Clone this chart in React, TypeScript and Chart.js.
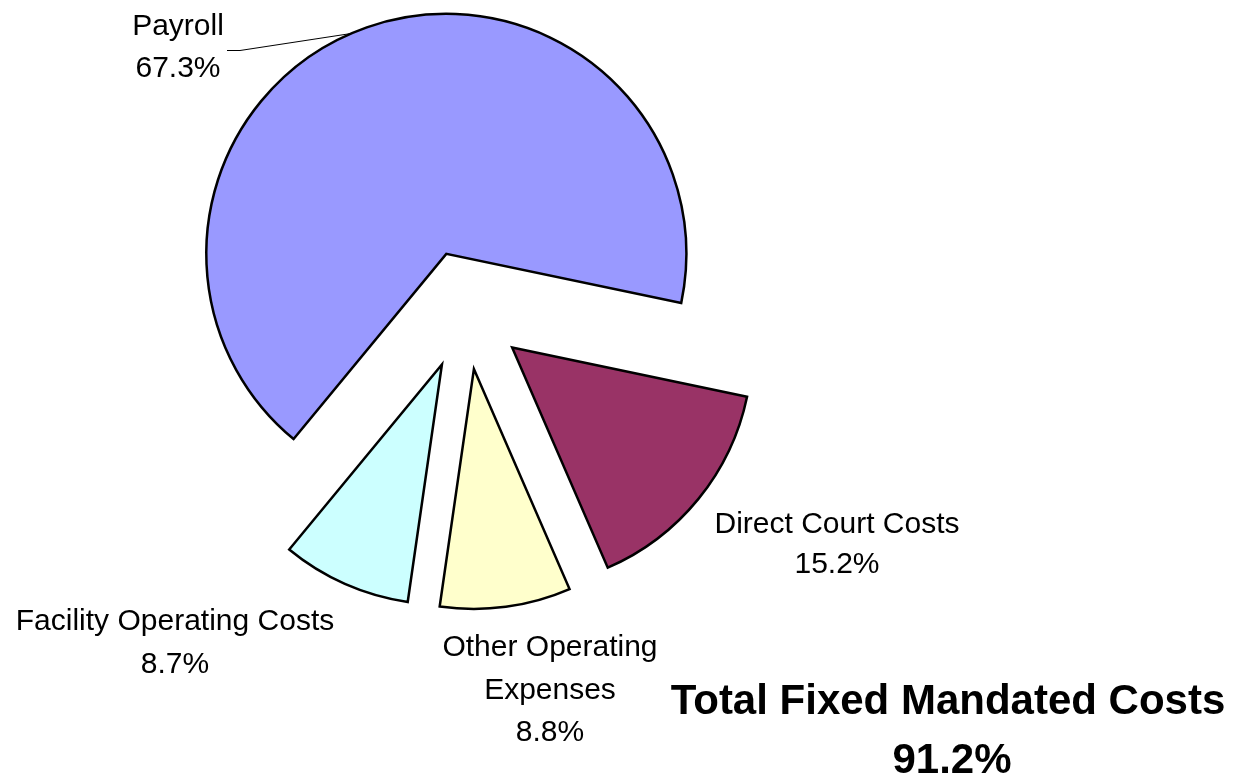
import React, { useEffect, useRef } from "react";
import { Chart, registerables } from "chart.js";

Chart.register(...registerables);

// ---- data ----
const CATEGORIES: (string | string[])[] = [
  "Direct Court Costs",
  ["Other Operating", "Expenses"],
  "Facility Operating Costs",
  "Payroll",
];
const SHARES = [15.2, 8.8, 8.7, 67.3];
const COLORS = ["#993366", "#FFFFCC", "#CCFFFF", "#9999FF"];
const TOTAL_LABEL = "Total Fixed Mandated Costs";
const TOTAL_SHARE = 91.2;

// ---- layout ----
const W = 1241;
const H = 778;
const EXPLODE = 59.5;
const RADIUS = 240;
const FONT = '"Liberation Sans", Arial, Helvetica, sans-serif';

// label placement relative to the pie centre: centre x offset, first baseline offset, line gap
const LABEL_POS = [
  { dx: 371, dy: 223, gap: 40 },
  { dx: 84, dy: 346, gap: 42.5 },
  { dx: -291, dy: 320, gap: 43 },
  { dx: -288, dy: -275, gap: 42 },
];

const explodePlugin = {
  id: "explodeSlices",
  beforeDatasetDraw(chart: any) {
    const meta = chart.getDatasetMeta(0);
    meta.data.forEach((el: any) => {
      if (el.__exploded) return;
      const orig = el.draw;
      el.draw = function (ctx: CanvasRenderingContext2D, area: any) {
        const mid = (this.startAngle + this.endAngle) / 2;
        ctx.save();
        ctx.translate(Math.cos(mid) * EXPLODE, Math.sin(mid) * EXPLODE);
        orig.call(this, ctx, area);
        ctx.restore();
      };
      el.__exploded = true;
    });
  },
};

const labelsPlugin = {
  id: "sliceLabels",
  afterDatasetsDraw(chart: any) {
    const ctx: CanvasRenderingContext2D = chart.ctx;
    const arcs: any[] = chart.getDatasetMeta(0).data;
    if (!arcs.length) return;
    const cx = arcs[0].x;
    const cy = arcs[0].y;
    ctx.save();
    ctx.fillStyle = "#000";
    ctx.textAlign = "center";
    ctx.textBaseline = "alphabetic";
    ctx.font = `30px ${FONT}`;
    CATEGORIES.forEach((cat, i) => {
      const lines = [...(Array.isArray(cat) ? cat : [cat]), SHARES[i].toFixed(1) + "%"];
      const p = LABEL_POS[i];
      lines.forEach((t, j) => ctx.fillText(t, cx + p.dx, cy + p.dy + j * p.gap));
    });

    // leader line for Payroll
    const pay = arcs[3];
    const mid = (pay.startAngle + pay.endAngle) / 2;
    const ox = pay.x + Math.cos(mid) * EXPLODE;
    const oy = pay.y + Math.sin(mid) * EXPLODE;
    const a = mid - (4 * Math.PI) / 180;
    const ex = ox + Math.cos(a) * pay.outerRadius;
    const ey = oy + Math.sin(a) * pay.outerRadius;
    ctx.beginPath();
    ctx.moveTo(cx - 239, cy - 259.5);
    ctx.lineTo(cx - 226, cy - 259.5);
    ctx.lineTo(ex, ey);
    ctx.lineWidth = 1;
    ctx.strokeStyle = "#000";
    ctx.stroke();

    // total
    ctx.font = `bold 42px ${FONT}`;
    ctx.fillText(TOTAL_LABEL, cx + 482, cy + 404);
    ctx.fillText(TOTAL_SHARE.toFixed(1) + "%", cx + 486, cy + 463);
    ctx.restore();
  },
};

export default function App() {
  const ref = useRef<HTMLCanvasElement | null>(null);

  useEffect(() => {
    if (!ref.current) return;
    const chart = new Chart(ref.current, {
      type: "pie",
      data: {
        labels: CATEGORIES as any,
        datasets: [
          {
            data: SHARES,
            backgroundColor: COLORS,
            borderColor: "#000000",
            borderWidth: 2.5,
            borderJoinStyle: "miter",
            offset: 0,
            hoverOffset: 0,
          } as any,
        ],
      },
      options: {
        animation: false,
        responsive: false,
        events: [],
        rotation: 101.8,
        radius: RADIUS,
        layout: { padding: { left: 0, top: 0, right: W - 2 * 466, bottom: H - 2 * 310 } },
        plugins: {
          legend: { display: false },
          tooltip: { enabled: false },
        },
      } as any,
      plugins: [explodePlugin, labelsPlugin],
    });
    return () => chart.destroy();
  }, []);

  return (
    <canvas
      ref={ref}
      width={W}
      height={H}
      style={{ position: "fixed", left: 0, top: 0, width: W, height: H, display: "block", background: "#fff" }}
    />
  );
}
